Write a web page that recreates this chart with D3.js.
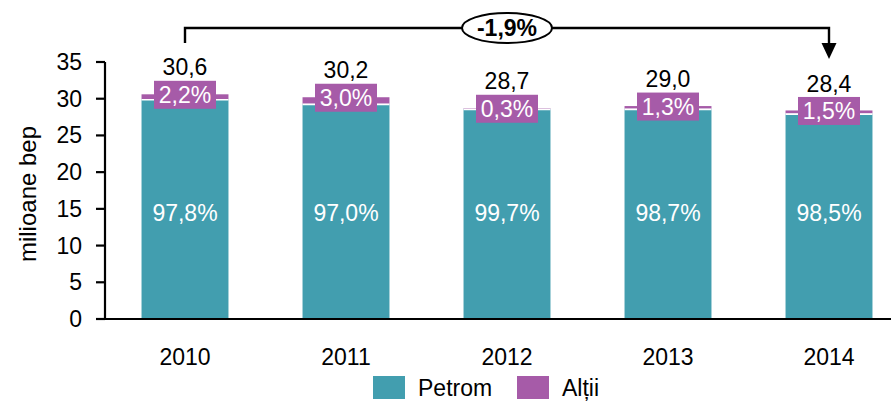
<!DOCTYPE html>
<html><head><meta charset="utf-8">
<script src="https://cdn.jsdelivr.net/npm/d3@7"></script>
<style>body{margin:0;background:#fff}svg{display:block;font-family:"Liberation Sans",Arial,sans-serif}</style>
</head><body><svg id="c" width="891" height="401"></svg>
<script>
const years = ["2010","2011","2012","2013","2014"];
const totals = [30.6, 30.2, 28.7, 29.0, 28.4];
const petromShare = [97.8, 97.0, 99.7, 98.7, 98.5];
const altiiShare = [2.2, 3.0, 0.3, 1.3, 1.5];
const yTicks = [0,5,10,15,20,25,30,35];
const changeLabel = "-1,9%";
const seriesNames = ["Petrom","Alții"];
const colors = {Petrom:"#429EAF", Altii:"#A65BA8"};

const fmt = v => v.toFixed(1).replace(".", ",");
const data = years.map((y,i)=>({year:y,total:totals[i],petrom:totals[i]*petromShare[i]/100,ps:petromShare[i],as:altiiShare[i]}));
const FS = 23;

const svg = d3.select("#c");
const x = d3.scaleBand().domain(years).range([104.5, 909.5]).paddingInner(0.46).paddingOuter(0.23);
const y = d3.scaleLinear().domain([0,35]).range([319,62]);

// bars
const g = svg.append("g");
g.selectAll("rect.p").data(data).join("rect")
  .attr("x",d=>x(d.year)).attr("width",x.bandwidth())
  .attr("y",d=>y(d.petrom)).attr("height",d=>y(0)-y(d.petrom)).attr("fill",colors.Petrom);
g.selectAll("rect.a").data(data).join("rect")
  .attr("x",d=>x(d.year)).attr("width",x.bandwidth())
  .attr("y",d=>y(d.total)).attr("height",d=>Math.max(1,y(d.petrom)-y(d.total))).attr("fill",colors.Altii);
g.selectAll("line.sep").data(data).join("line")
  .attr("x1",d=>x(d.year)).attr("x2",d=>x(d.year)+x.bandwidth())
  .attr("y1",d=>y(d.petrom)+0.5).attr("y2",d=>y(d.petrom)+0.5)
  .attr("stroke","#fff").attr("stroke-width",1.6);

// axes
const ya = svg.append("g");
ya.append("line").attr("x1",105).attr("x2",105).attr("y1",y(35)).attr("y2",y(0)).attr("stroke","#000").attr("stroke-width",2.2);
ya.selectAll("line.t").data(yTicks).join("line").attr("class","t")
  .attr("x1",96).attr("x2",105).attr("y1",d=>y(d)).attr("y2",d=>y(d)).attr("stroke","#000").attr("stroke-width",2.2);
ya.selectAll("text").data(yTicks).join("text")
  .attr("x",82).attr("y",d=>y(d)).attr("dy","0.35em").attr("text-anchor","end")
  .attr("font-size",FS).text(d=>d);
svg.append("line").attr("x1",96).attr("x2",891).attr("y1",y(0)).attr("y2",y(0)).attr("stroke","#000").attr("stroke-width",2.2);
svg.append("g").selectAll("text").data(years).join("text")
  .attr("x",d=>x(d)+x.bandwidth()/2).attr("y",357).attr("dy","0.35em").attr("text-anchor","middle")
  .attr("font-size",FS).text(d=>d);
svg.append("text").attr("transform","translate(28,194) rotate(-90)").attr("text-anchor","middle")
  .attr("dy","0.35em").attr("font-size",24).text("milioane bep");

// inside labels
svg.append("g").selectAll("text").data(data).join("text")
  .attr("x",d=>x(d.year)+x.bandwidth()/2).attr("y",213).attr("dy","0.35em").attr("text-anchor","middle")
  .attr("font-size",FS).attr("fill","#fff").text(d=>fmt(d.ps)+"%");

// altii boxes
const ab = svg.append("g").selectAll("g").data(data).join("g")
  .attr("transform",d=>`translate(${x(d.year)+x.bandwidth()/2},${y(d.total)+0.5})`);
ab.append("rect").attr("x",-31).attr("y",-14).attr("width",62).attr("height",28).attr("fill",colors.Altii);
ab.append("text").attr("dy","0.36em").attr("text-anchor","middle").attr("font-size",FS).attr("fill","#fff").text(d=>fmt(d.as)+"%");

// totals
svg.append("g").selectAll("text").data(data).join("text")
  .attr("x",d=>x(d.year)+x.bandwidth()/2).attr("y",d=>y(d.total)-27).attr("dy","0.35em").attr("text-anchor","middle")
  .attr("font-size",FS).attr("fill","#000").text(d=>fmt(d.total));

// bracket
const x0 = x(years[0])+x.bandwidth()/2, x1 = x(years[years.length-1])+x.bandwidth()/2;
svg.append("path").attr("d",`M${x0},43V28H${x1}V45`).attr("fill","none").attr("stroke","#000").attr("stroke-width",2.4);
svg.append("path").attr("d",`M${x1-7.5},43H${x1+7.5}L${x1},59Z`).attr("fill","#000");
const mx = (x0+x1)/2;
svg.append("ellipse").attr("cx",mx).attr("cy",28).attr("rx",45).attr("ry",15).attr("fill","#fff").attr("stroke","#000").attr("stroke-width",2);
svg.append("text").attr("x",mx).attr("y",28).attr("dy","0.36em").attr("text-anchor","middle")
  .attr("font-size",FS).attr("font-weight","bold").text(changeLabel);

// legend
const leg = [{n:seriesNames[0],c:colors.Petrom,x:373},{n:seriesNames[1],c:colors.Altii,x:517}];
const lg = svg.append("g").selectAll("g").data(leg).join("g").attr("transform",d=>`translate(${d.x},376)`);
lg.append("rect").attr("width",32).attr("height",23).attr("fill",d=>d.c);
lg.append("text").attr("x",45).attr("y",12).attr("dy","0.36em").attr("font-size",FS).text(d=>d.n);
</script></body></html>
